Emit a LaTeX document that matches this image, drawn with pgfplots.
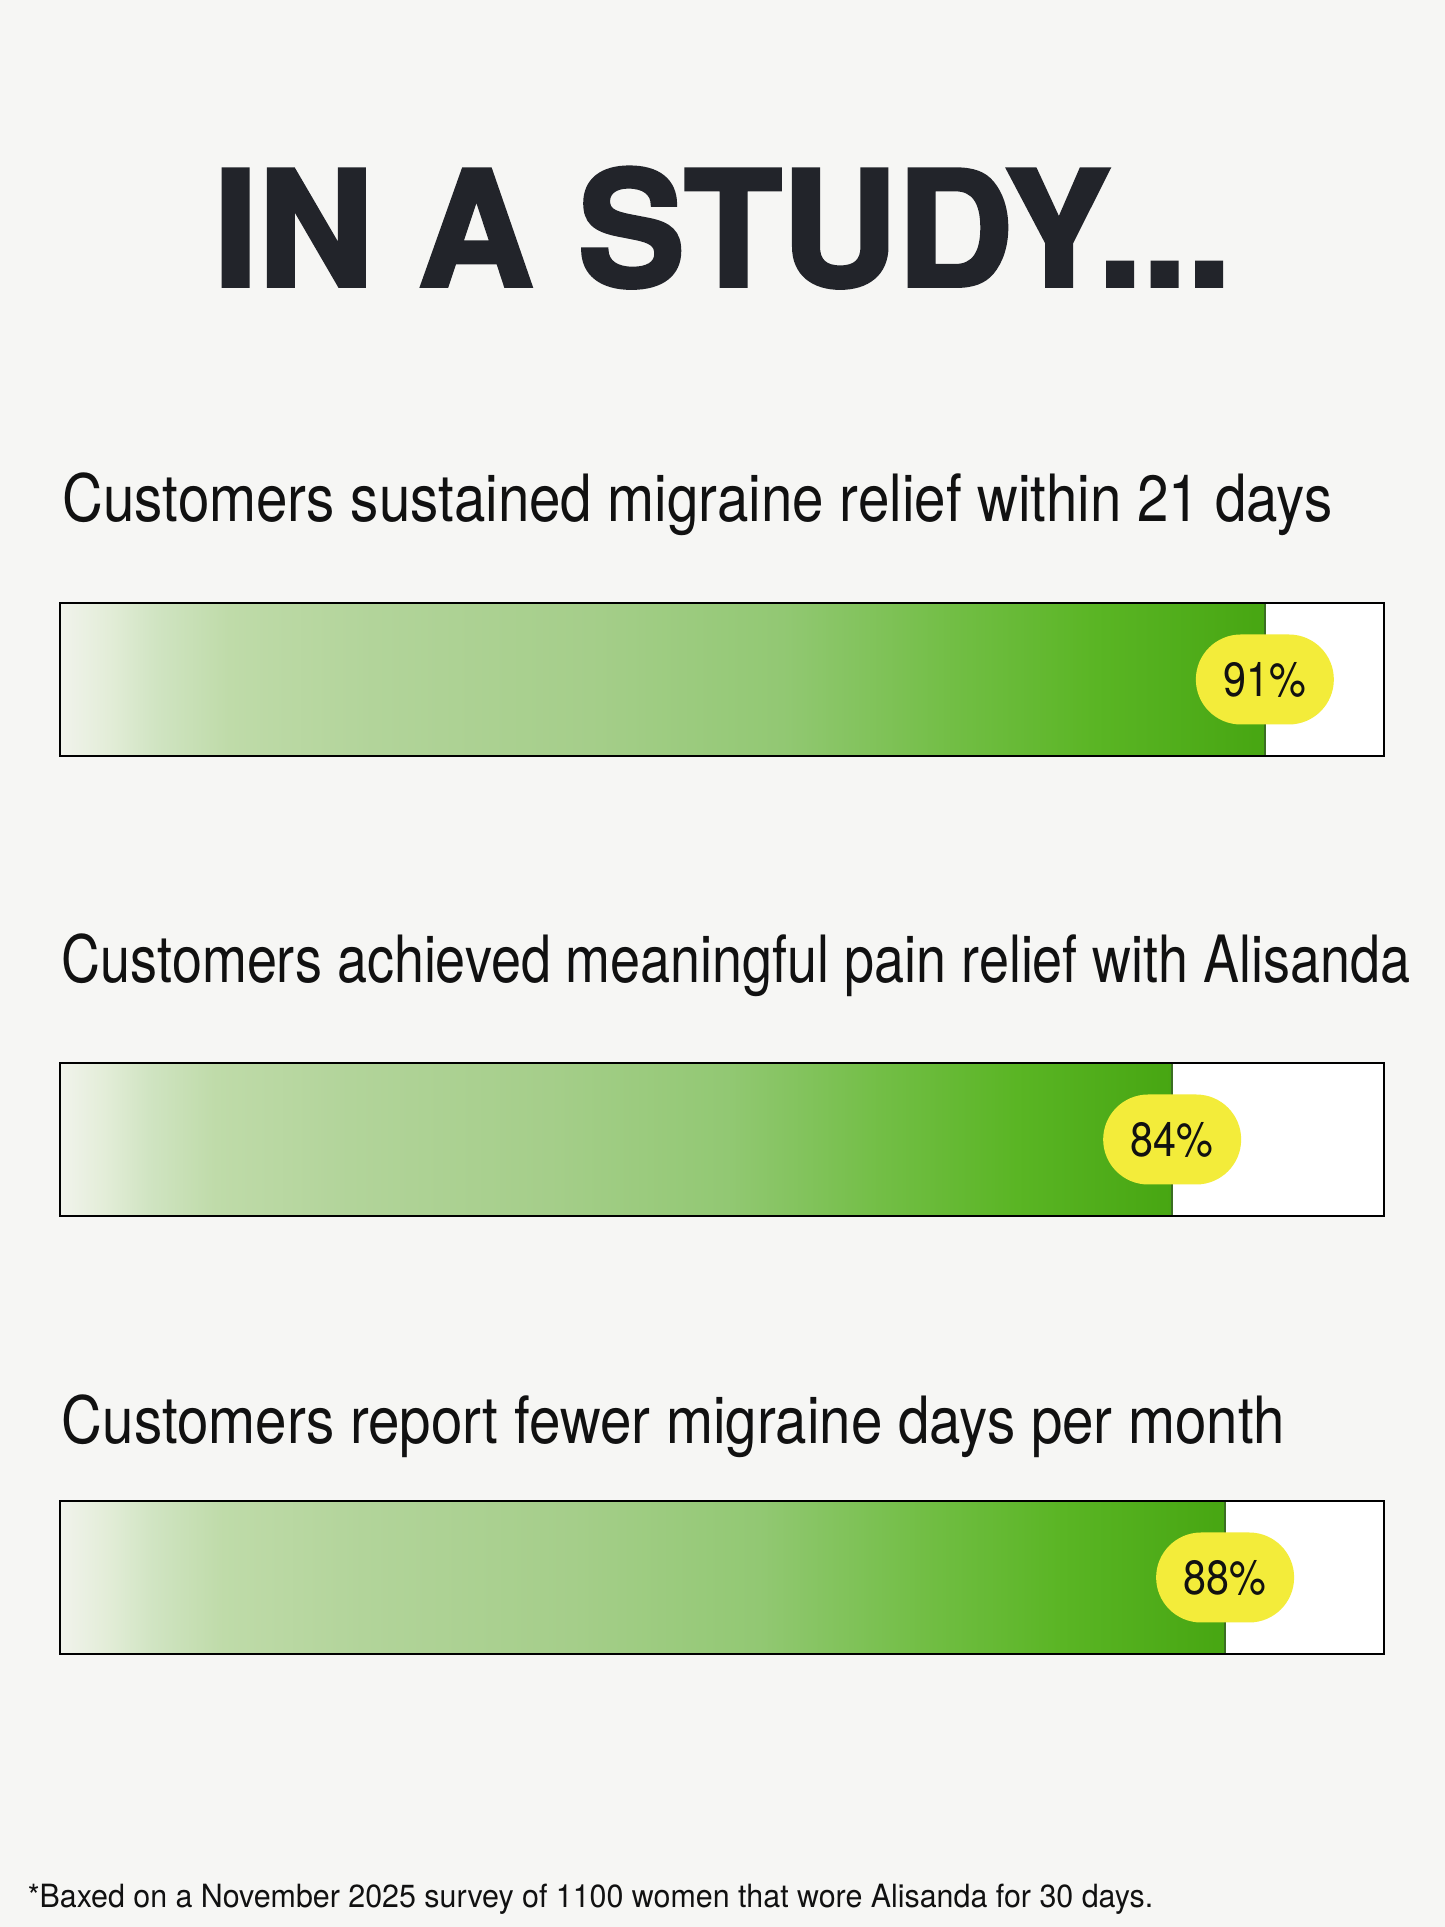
\documentclass[border=0pt]{standalone}
\usepackage{pgfplots}
\pgfplotsset{compat=1.18}
\usepackage{fontspec}
\setmainfont{TeX Gyre Heros}
\newfontfamily\titlefont[BoldFeatures={FakeBold=2.5}]{TeX Gyre Heros}
\newfontfamily\labelfont[FakeStretch=0.866]{TeX Gyre Heros}
\newfontfamily\labelfontB[FakeStretch=0.827]{TeX Gyre Heros}
\newfontfamily\pillfont[FakeStretch=0.86]{TeX Gyre Heros}
\newfontfamily\notefont[FakeStretch=0.95]{TeX Gyre Heros}
\usetikzlibrary{shapes.misc}
\definecolor{bg}{HTML}{F6F6F4}
\definecolor{ink}{HTML}{111111}
\definecolor{titleink}{HTML}{22242A}
\definecolor{pill}{HTML}{F3EC3A}
\definecolor{edge}{HTML}{3B6E22}
\definecolor{g0}{HTML}{F1F3EC}
\definecolor{g1}{HTML}{E3EDD8}
\definecolor{g2}{HTML}{D0E4C2}
\definecolor{g3}{HTML}{BFDBA9}
\definecolor{g4}{HTML}{B2D49A}
\definecolor{g5}{HTML}{A5CE8A}
\definecolor{g6}{HTML}{92C873}
\definecolor{g7}{HTML}{72BE45}
\definecolor{g8}{HTML}{5AB524}
\definecolor{g9}{HTML}{47A612}
\pgfdeclarehorizontalshading{greenbar}{100bp}{color(0bp)=(g0); color(25bp)=(g0); color(27bp)=(g1); color(29bp)=(g2); color(32bp)=(g3); color(38bp)=(g4); color(47bp)=(g5); color(55bp)=(g6); color(62bp)=(g7); color(68bp)=(g8); color(75bp)=(g9); color(100bp)=(g9)}
\pgfplotsset{
  barframe/.style={
    scale only axis, width=331pt, height=38.25pt,
    xmin=0, xmax=100, ymin=0, ymax=1,
    xtick=\empty, ytick=\empty,
    axis line style={line width=0.6pt, black},
    axis background/.style={fill=white},
    axis on top, clip=false,
  },
  pctbar/.style={
    xbar, bar width=38.25pt, draw=edge, line width=0.35pt, shading=greenbar, shading angle=0,
    point meta=x,
    nodes near coords={\pgfmathprintnumber[assume math mode=true]{\pgfplotspointmeta}\%},
    every node near coord/.append style={anchor=center, shape=rounded rectangle, fill=pill, draw=none,
      minimum width=34.5pt, minimum height=22.5pt, inner sep=0pt,
      font=\pillfont\fontsize{12}{12}\selectfont, text=ink, xshift=0pt},
  },
}
\begin{document}
\begin{tikzpicture}
\path[use as bounding box] (0,0) rectangle (361.25pt,481.75pt);
\fill[bg] (0,0) rectangle (361.25pt,481.75pt);
\node[anchor=base, text=titleink, inner sep=0pt, font=\titlefont\bfseries\fontsize{40}{40}\selectfont] at (180.6pt,410.25pt) {IN A STUDY...};

\node[anchor=base west, text=ink, inner sep=0pt, font=\labelfont\fontsize{16.3}{16.3}\selectfont] at (15.5pt,351.25pt) {Customers sustained migraine relief within 21 days};
\node[anchor=base west, text=ink, inner sep=0pt, font=\labelfontB\fontsize{16.3}{16.3}\selectfont] at (15.3pt,236pt) {Customers achieved meaningful pain relief with Alisanda};
\node[anchor=base west, text=ink, inner sep=0pt, font=\labelfont\fontsize{16.3}{16.3}\selectfont] at (15.3pt,120.75pt) {Customers report fewer migraine days per month};

\begin{axis}[barframe, at={(15pt,292.75pt)}, anchor=south west]
\addplot[pctbar] coordinates {(91,0.5)};
\end{axis}
\begin{axis}[barframe, at={(15pt,177.75pt)}, anchor=south west]
\addplot[pctbar] coordinates {(84,0.5)};
\end{axis}
\begin{axis}[barframe, at={(15pt,68.25pt)}, anchor=south west]
\addplot[pctbar] coordinates {(88,0.5)};
\end{axis}

\node[anchor=base west, text=ink, inner sep=0pt, font=\notefont\fontsize{8}{8}\selectfont] at (6.75pt,5pt) {*Baxed on a November 2025 survey of 1100 women that wore Alisanda for 30 days.};
\end{tikzpicture}
\end{document}
